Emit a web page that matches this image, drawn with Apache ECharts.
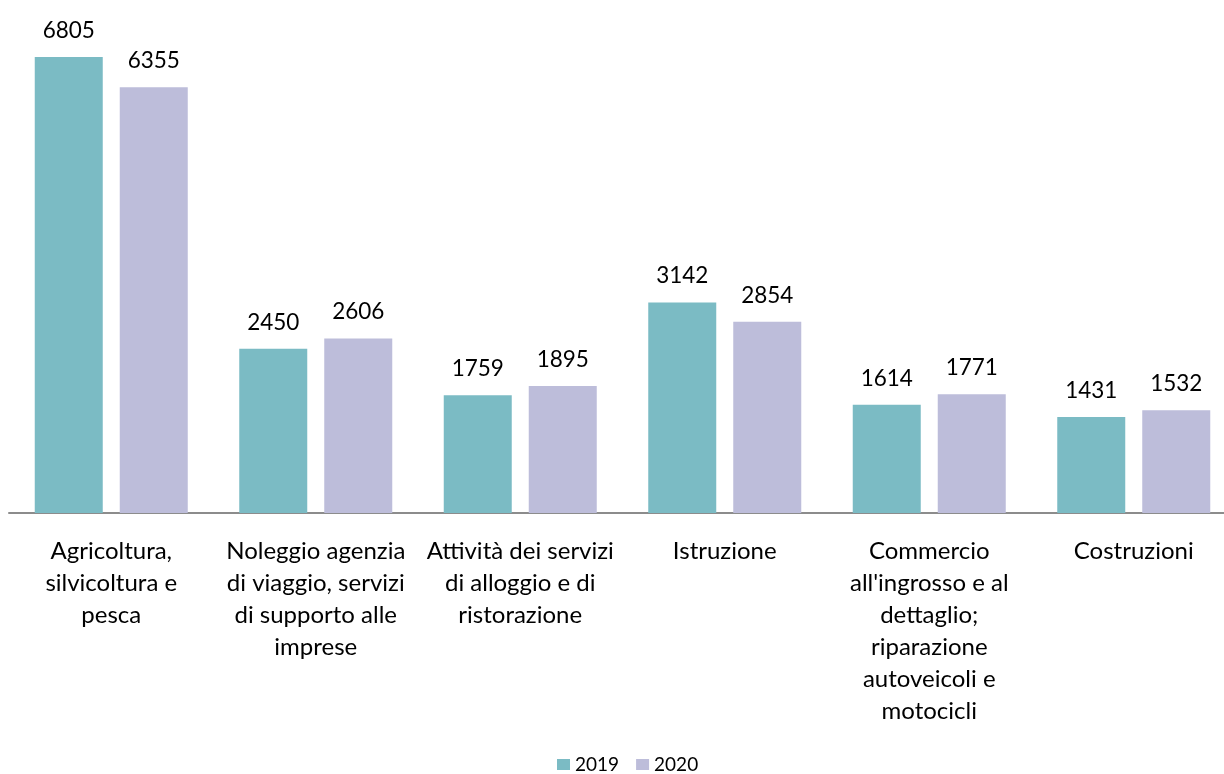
<!DOCTYPE html>
<html>
<head>
<meta charset="utf-8">
<script src="https://cdn.jsdelivr.net/npm/echarts@6/dist/echarts.min.js"></script>
<style>
  html, body { margin: 0; padding: 0; background: #fff; overflow: hidden; }
  #chart { width: 1240px; height: 774px; }
</style>
</head>
<body>
<div id="chart"></div>
<script>
const categories = [
  'Agricoltura,\nsilvicoltura e\npesca',
  'Noleggio agenzia\ndi viaggio, servizi\ndi supporto alle\nimprese',
  'Attività dei servizi\ndi alloggio e di\nristorazione',
  'Istruzione',
  "Commercio\nall'ingrosso e al\ndettaglio;\nriparazione\nautoveicoli e\nmotocicli",
  'Costruzioni'
]
const values2019 = [6805, 2450, 1759, 3142, 1614, 1431]
const values2020 = [6355, 2606, 1895, 2854, 1771, 1532]

const chart = echarts.init(document.getElementById('chart'))
const font = 'Lato, "Open Sans", sans-serif'
const barLabel = {
  show: true,
  position: 'top',
  distance: 15,
  color: '#000',
  fontSize: 22.5,
  fontFamily: font
}
chart.setOption({
  animation: false,
  textStyle: { fontFamily: font },
  grid: { left: 9, right: 4, top: 44, bottom: 261, containLabel: false },
  legend: {
    bottom: 0,
    left: 557,
    padding: 0,
    itemWidth: 13,
    itemHeight: 11,
    itemGap: 17,
    icon: 'rect',
    textStyle: { color: '#000', fontSize: 19, fontFamily: font },
    data: ['2019', '2020']
  },
  xAxis: {
    type: 'category',
    data: categories,
    axisLine: { lineStyle: { color: '#8c8c8c', width: 2 } },
    axisTick: { show: false },
    axisLabel: {
      color: '#000',
      fontSize: 24,
      fontFamily: font,
      lineHeight: 32,
      margin: 22,
      interval: 0
    }
  },
  yAxis: {
    type: 'value',
    min: 0,
    max: 7000,
    show: false,
    splitLine: { show: false }
  },
  series: [
    {
      name: '2019',
      type: 'bar',
      data: values2019,
      barWidth: 68,
      barGap: '25%',
      itemStyle: { color: '#7bbbc4' },
      label: barLabel
    },
    {
      name: '2020',
      type: 'bar',
      data: values2020,
      barWidth: 68,
      itemStyle: { color: '#bdbdda' },
      label: barLabel
    }
  ]
})
</script>
</body>
</html>
